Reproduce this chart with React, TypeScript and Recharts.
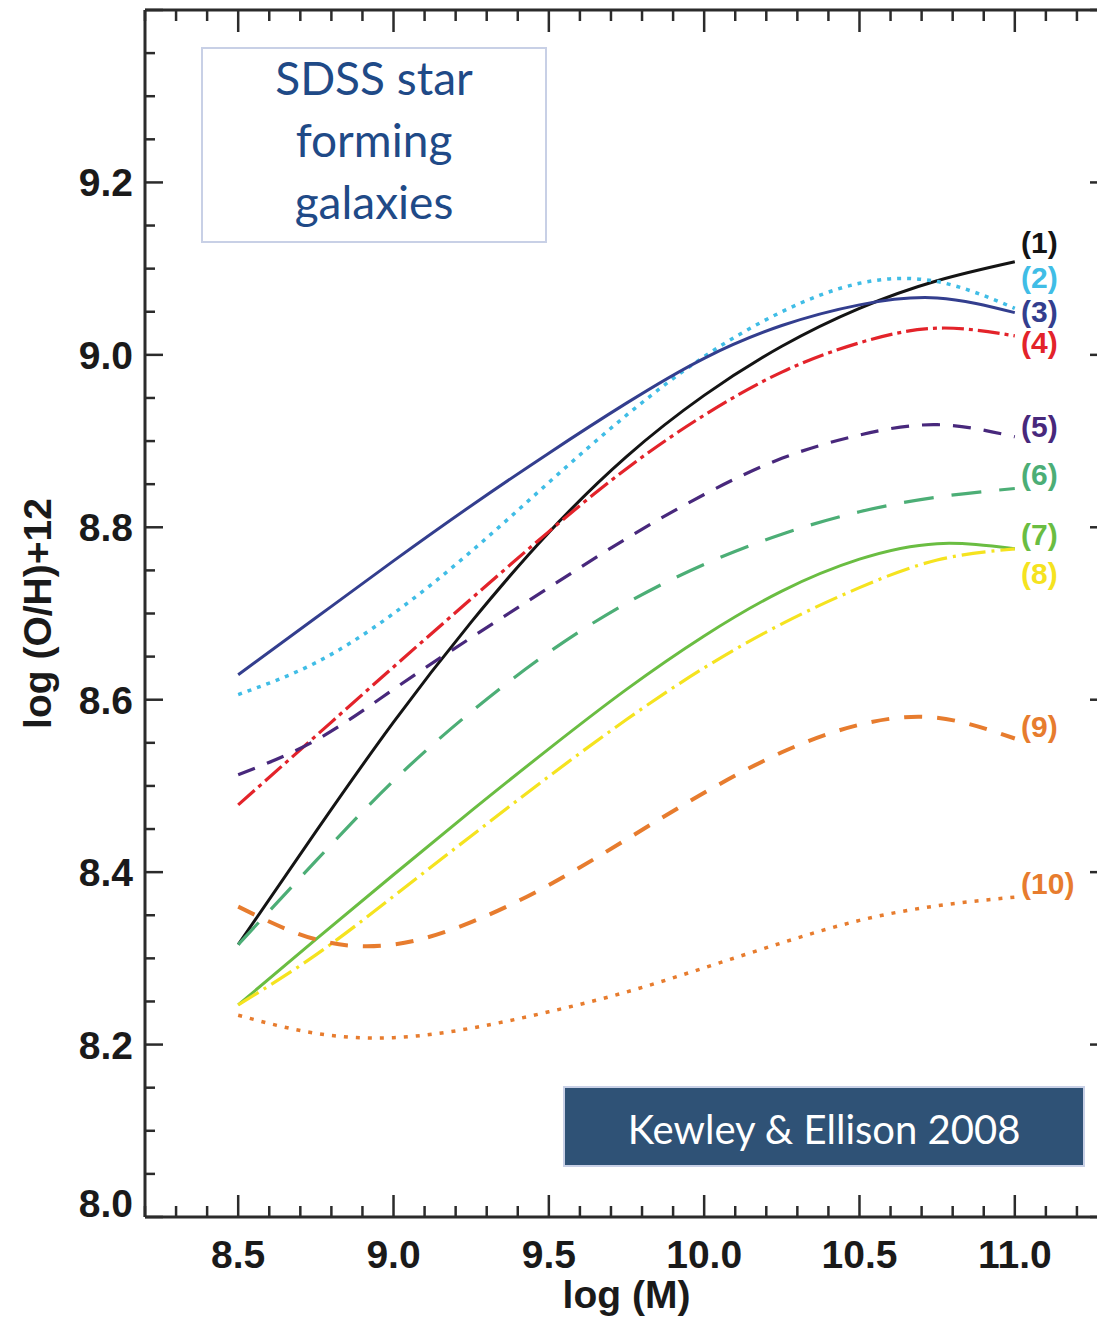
import React from "react";
import { LineChart, Line, XAxis, YAxis, ReferenceDot } from "recharts";

// log(M) sample points of the calibrations
const logM = [8.5, 8.75, 9.0, 9.25, 9.5, 9.75, 10.0, 10.25, 10.5, 10.75, 11.0];

// log(O/H)+12
const curve1 = [8.316, 8.447, 8.574, 8.69, 8.794, 8.882, 8.953, 9.01, 9.054, 9.086, 9.108];
const curve2 = [8.606, 8.643, 8.7, 8.772, 8.852, 8.93, 8.998, 9.05, 9.083, 9.085, 9.054];
const curve3 = [8.629, 8.695, 8.761, 8.825, 8.886, 8.944, 8.996, 9.034, 9.058, 9.066, 9.049];
const curve4 = [8.478, 8.558, 8.638, 8.717, 8.795, 8.868, 8.93, 8.98, 9.014, 9.031, 9.022];
const curve5 = [8.513, 8.553, 8.612, 8.672, 8.73, 8.787, 8.838, 8.88, 8.907, 8.919, 8.905];
const curve6 = [8.316, 8.413, 8.506, 8.586, 8.655, 8.712, 8.757, 8.792, 8.818, 8.835, 8.845];
const curve7 = [8.246, 8.322, 8.397, 8.471, 8.543, 8.612, 8.674, 8.726, 8.763, 8.781, 8.775];
const curve8 = [8.246, 8.304, 8.372, 8.442, 8.511, 8.577, 8.637, 8.688, 8.73, 8.762, 8.775];
const curve9 = [8.36, 8.322, 8.316, 8.342, 8.385, 8.438, 8.492, 8.539, 8.571, 8.579, 8.555];
const curve10 = [8.234, 8.213, 8.208, 8.219, 8.238, 8.261, 8.289, 8.318, 8.344, 8.361, 8.371];

// curve tags at the right-hand end
const tagNames = ["(1)", "(2)", "(3)", "(4)", "(5)", "(6)", "(7)", "(8)", "(9)", "(10)"];
const tagX = 11.02;
const tagY = [9.129, 9.088, 9.048, 9.013, 8.915, 8.86, 8.79, 8.745, 8.567, 8.385];

const xTicks = [
  8.2, 8.3, 8.4, 8.5, 8.6, 8.7, 8.8, 8.9, 9.0, 9.1, 9.2, 9.3, 9.4, 9.5, 9.6, 9.7,
  9.8, 9.9, 10.0, 10.1, 10.2, 10.3, 10.4, 10.5, 10.6, 10.7, 10.8, 10.9, 11.0, 11.1,
  11.2, 11.3,
];
const xLabels = [8.5, 9.0, 9.5, 10.0, 10.5, 11.0];
const yTicks = [
  8.0, 8.05, 8.1, 8.15, 8.2, 8.25, 8.3, 8.35, 8.4, 8.45, 8.5, 8.55, 8.6, 8.65, 8.7,
  8.75, 8.8, 8.85, 8.9, 8.95, 9.0, 9.05, 9.1, 9.15, 9.2, 9.25, 9.3, 9.35, 9.4,
];
const yMajor = [8.0, 8.2, 8.4, 8.6, 8.8, 9.0, 9.2, 9.4];
const yLabels = [8.0, 8.2, 8.4, 8.6, 8.8, 9.0, 9.2];

const curves = [curve1, curve2, curve3, curve4, curve5, curve6, curve7, curve8, curve9, curve10];

const styles = [
  { color: "#141414", dash: undefined, width: 3 },
  { color: "#40bde6", dash: "4 6", width: 3.5 },
  { color: "#333e8e", dash: undefined, width: 3 },
  { color: "#e3232a", dash: "22 5 4 5", width: 3.2 },
  { color: "#48287c", dash: "18 13", width: 3.2 },
  { color: "#4cae76", dash: "30 18", width: 3.2 },
  { color: "#6abd42", dash: undefined, width: 3 },
  { color: "#f5e31f", dash: "24 6 3 6", width: 3.2 },
  { color: "#e77c2e", dash: "18 15", width: 4 },
  { color: "#e77c2e", dash: "4 8", width: 3.5 },
];

const rows = logM.map((x, i) => {
  const row: Record<string, number> = { x };
  curves.forEach((c, k) => {
    row["c" + (k + 1)] = c[i];
  });
  return row;
});

const AXIS = "#2b2b2b";
const FONT = "'Liberation Sans', Arial, Helvetica, sans-serif";
const has = (list: number[], v: number) => list.some((t) => Math.abs(t - v) < 1e-6);

function LeftTick(props: any) {
  const { x, y, payload } = props;
  const v = payload.value;
  const edge = x + 12;
  const len = has(yMajor, v) ? 18 : 10;
  return (
    <g>
      <line x1={edge} x2={edge + len} y1={y} y2={y} stroke={AXIS} strokeWidth={2.5} />
      {has(yLabels, v) && (
        <text
          x={x}
          y={y}
          dy={v < 8.01 ? "0.0em" : "0.36em"}
          textAnchor="end"
          fontFamily={FONT}
          fontWeight="bold"
          fontSize={39}
          fill="#1a1a1a"
        >
          {v.toFixed(1)}
        </text>
      )}
    </g>
  );
}

function RightTick(props: any) {
  const { x, y, payload } = props;
  const len = has(yMajor, payload.value) ? 18 : 10;
  return <line x1={x} x2={x - len} y1={y} y2={y} stroke={AXIS} strokeWidth={2.5} />;
}

function BottomTick(props: any) {
  const { x, y, payload } = props;
  const v = payload.value;
  const major = has(xLabels, v);
  const len = major ? 22 : 11;
  return (
    <g>
      <line x1={x} x2={x} y1={y} y2={y - len} stroke={AXIS} strokeWidth={2.5} />
      {major && (
        <text
          x={x}
          y={y + 51}
          textAnchor="middle"
          fontFamily={FONT}
          fontWeight="bold"
          fontSize={39}
          fill="#1a1a1a"
        >
          {v.toFixed(1)}
        </text>
      )}
    </g>
  );
}

function TopTick(props: any) {
  const { x, y, payload } = props;
  const len = has(xLabels, payload.value) ? 22 : 11;
  return <line x1={x} x2={x} y1={y} y2={y + len} stroke={AXIS} strokeWidth={2.5} />;
}

const tagShape = (k: number) => (p: any) => (
  <text
    x={p.cx}
    y={p.cy}
    dy="0.3em"
    fontFamily={FONT}
    fontWeight="bold"
    fontSize={30}
    fill={styles[k].color}
  >
    {tagNames[k]}
  </text>
);

export default function App() {
  return (
    <div
      style={{
        position: "absolute",
        left: 0,
        top: 0,
        width: 1097,
        height: 1319,
        overflow: "hidden",
        background: "#fff",
      }}
    >
      <LineChart
        width={1130}
        height={1319}
        data={rows}
        margin={{ top: 9, right: 21, left: 0, bottom: 0 }}
      >
        <XAxis
          dataKey="x"
          type="number"
          domain={[8.2, 11.3]}
          allowDataOverflow
          ticks={xTicks}
          interval={0}
          height={102}
          tickSize={0}
          tickMargin={0}
          tickLine={false}
          tick={BottomTick}
          axisLine={{ stroke: AXIS, strokeWidth: 3 }}
          label={{
            content: (p: any) => {
              const vb = p.viewBox;
              return (
                <text
                  x={vb.x + vb.width / 2}
                  y={vb.y + 91}
                  textAnchor="middle"
                  fontFamily={FONT}
                  fontWeight="bold"
                  fontSize={39}
                  fill="#1a1a1a"
                >
                  log (M)
                </text>
              );
            },
          }}
        />
        <XAxis
          xAxisId="top"
          orientation="top"
          dataKey="x"
          type="number"
          domain={[8.2, 11.3]}
          allowDataOverflow
          ticks={xTicks}
          interval={0}
          height={1}
          tickSize={0}
          tickMargin={0}
          tickLine={false}
          tick={TopTick}
          axisLine={{ stroke: AXIS, strokeWidth: 3 }}
        />
        <YAxis
          type="number"
          domain={[8.0, 9.4]}
          allowDataOverflow
          ticks={yTicks}
          interval={0}
          width={145}
          tickSize={0}
          tickMargin={12}
          tickLine={false}
          tick={LeftTick}
          axisLine={{ stroke: AXIS, strokeWidth: 3 }}
          label={{
            content: (p: any) => {
              const vb = p.viewBox;
              const cx = vb.x + 37;
              const cy = vb.y + vb.height / 2;
              return (
                <text
                  x={cx}
                  y={cy}
                  dy="0.36em"
                  transform={`rotate(-90, ${cx}, ${cy})`}
                  textAnchor="middle"
                  fontFamily={FONT}
                  fontWeight="bold"
                  fontSize={39}
                  fill="#1a1a1a"
                >
                  log (O/H)+12
                </text>
              );
            },
          }}
        />
        <YAxis
          yAxisId="right"
          orientation="right"
          type="number"
          domain={[8.0, 9.4]}
          allowDataOverflow
          ticks={yTicks}
          interval={0}
          width={1}
          tickSize={0}
          tickMargin={0}
          tickLine={false}
          tick={RightTick}
          axisLine={{ stroke: AXIS, strokeWidth: 3 }}
        />
        {styles.map((s, k) => (
          <Line
            key={k}
            dataKey={"c" + (k + 1)}
            type="natural"
            stroke={s.color}
            strokeWidth={s.width}
            strokeDasharray={s.dash}
            dot={false}
            activeDot={false}
            isAnimationActive={false}
          />
        ))}
        {tagY.map((ty, k) => (
          <ReferenceDot key={"t" + k} x={tagX} y={ty} r={0} shape={tagShape(k)} />
        ))}
      </LineChart>

      <div
        style={{
          position: "absolute",
          left: 201,
          top: 47,
          width: 342,
          height: 182,
          paddingBottom: 10,
          border: "2px solid #c8d0e6",
          display: "flex",
          alignItems: "center",
          justifyContent: "center",
          textAlign: "center",
          fontFamily: "Lato, 'Open Sans', sans-serif",
          fontSize: 46,
          lineHeight: "62px",
          color: "#1f4a87",
          background: "#fff",
        }}
      >
        <div>
          SDSS star
          <br />
          forming
          <br />
          galaxies
        </div>
      </div>

      <div
        style={{
          position: "absolute",
          left: 563,
          top: 1086,
          width: 518,
          height: 73,
          paddingTop: 4,
          boxSizing: "content-box",
          border: "2px solid #c8d0e6",
          background: "#2f5276",
          display: "flex",
          alignItems: "center",
          justifyContent: "center",
          fontFamily: "Lato, 'Open Sans', sans-serif",
          fontSize: 40,
          color: "#fff",
        }}
      >
        Kewley &amp; Ellison 2008
      </div>
    </div>
  );
}
